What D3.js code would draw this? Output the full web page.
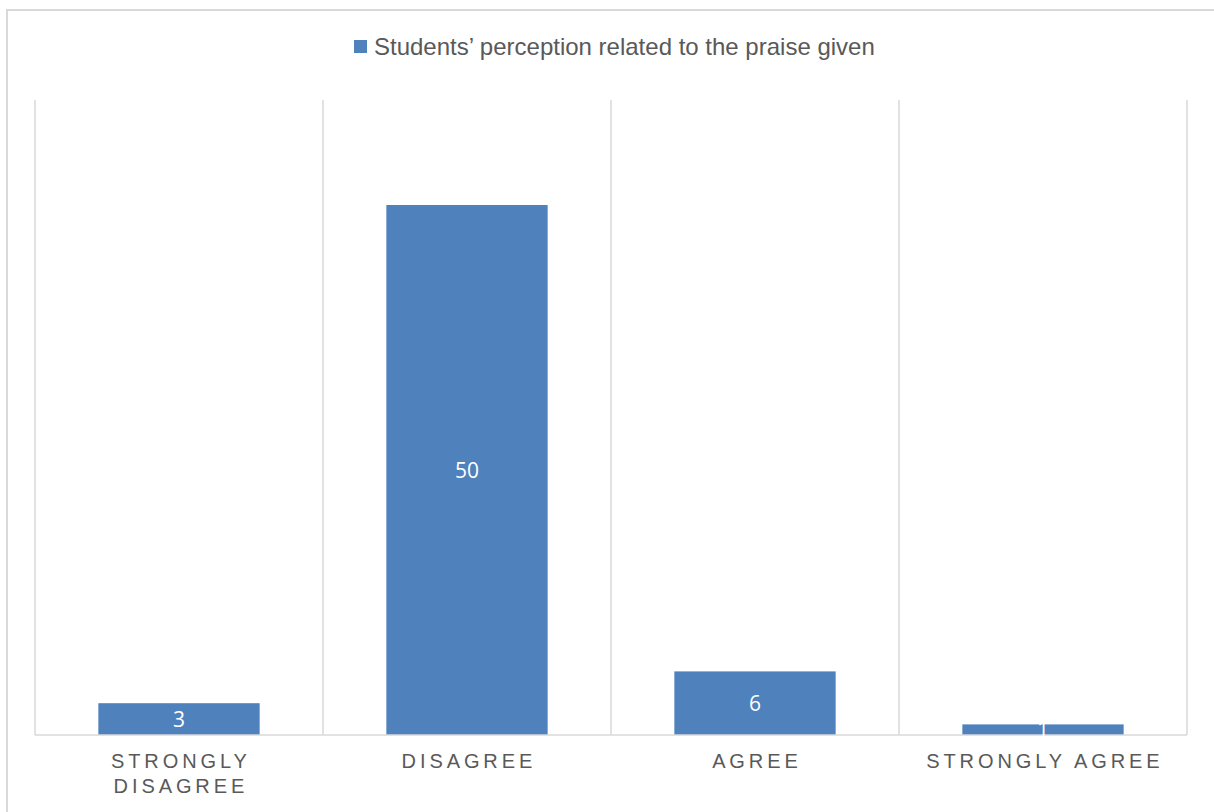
<!DOCTYPE html>
<html><head><meta charset="utf-8">
<script src="https://cdn.jsdelivr.net/npm/d3@7"></script>
<style>body{margin:0;background:#fff}svg{display:block}</style>
</head><body>
<script>
const categories = [["STRONGLY", "DISAGREE"], ["DISAGREE"], ["AGREE"], ["STRONGLY AGREE"]];
const values = [3, 50, 6, 1];
const seriesName = "Students\u2019 perception related to the praise given";

(function() {
const W = 1214, H = 812;
const svg = d3.select("body").append("svg").attr("width", W).attr("height", H);
svg.append("rect").attr("x", 7).attr("y", 10).attr("width", W + 10).attr("height", H + 10)
  .attr("fill", "#fff").attr("stroke", "#d9d9d9").attr("stroke-width", 2);

const pLeft = 35, pRight = 1187, pTop = 100, pBottom = 735;
const x = d3.scaleBand().domain(d3.range(values.length)).range([pLeft, pRight]).paddingInner(0.44).paddingOuter(0.22);
const xc = d3.scaleBand().domain(d3.range(values.length)).range([pLeft, pRight]);
const y = d3.scaleLinear().domain([0, 50]).range([pBottom, 205]);

const bounds = d3.range(values.length + 1).map(i => pLeft + i * xc.step());
svg.selectAll(".grid").data(bounds).join("line")
  .attr("x1", d => d).attr("x2", d => d).attr("y1", pTop).attr("y2", pBottom)
  .attr("stroke", "#d9d9d9").attr("stroke-width", 1.5);

svg.selectAll(".bar").data(values).join("rect")
  .attr("x", (d, i) => x(i)).attr("width", x.bandwidth())
  .attr("y", d => y(d)).attr("height", d => pBottom - y(d))
  .attr("fill", "#4f81bd");

svg.append("line").attr("x1", pLeft).attr("x2", pRight).attr("y1", pBottom).attr("y2", pBottom)
  .attr("stroke", "#d9d9d9").attr("stroke-width", 1.5);

svg.selectAll(".lbl").data(values).join("text")
  .attr("x", (d, i) => x(i) + x.bandwidth() / 2)
  .attr("y", d => (y(d) + pBottom) / 2)
  .attr("dy", "0.36em").attr("text-anchor", "middle")
  .attr("font-family", "'Open Sans', 'Liberation Sans', sans-serif").attr("font-size", 21)
  .attr("fill", "#fff").text(d => d);

const cat = svg.selectAll(".cat").data(categories).join("text")
  .attr("text-anchor", "middle")
  .attr("font-family", "'Liberation Sans', Arial, sans-serif").attr("font-size", 20)
  .attr("letter-spacing", "3.9px").attr("fill", "#595959");
cat.each(function(lines, i) {
  const t = d3.select(this);
  lines.forEach((ln, j) => {
    t.append("tspan").attr("x", xc(i) + xc.bandwidth() / 2 + 1.9).attr("y", 768 + j * 25).text(ln);
  });
});

const lg = svg.append("g");
lg.append("rect").attr("x", 354).attr("y", 40).attr("width", 13).attr("height", 13).attr("fill", "#4f81bd");
lg.append("text").attr("x", 374).attr("y", 46.5).attr("dy", "0.36em")
  .attr("font-family", "'Liberation Sans', Arial, sans-serif").attr("font-size", 24)
  .attr("fill", "#595959").text(seriesName);
})();
</script>
</body></html>
